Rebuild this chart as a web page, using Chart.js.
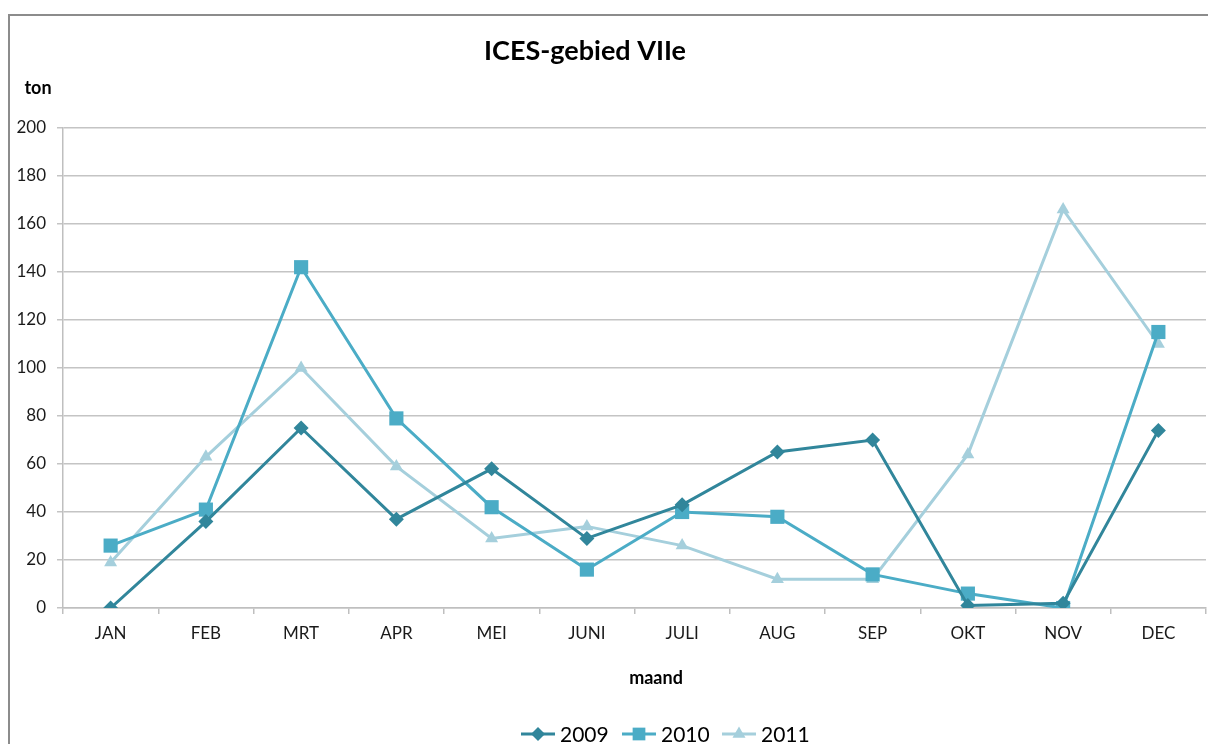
<!DOCTYPE html>
<html lang="nl">
<head>
<meta charset="UTF-8">
<title>ICES-gebied VIIe</title>
<script src="https://cdn.jsdelivr.net/npm/chart.js"></script>
<style>
    html, body { margin: 0; padding: 0; background: #fff; overflow: hidden; }
    #wrap { position: relative; width: 1208px; height: 744px; overflow: hidden; }
</style>
</head>
<body>
<div id="wrap"><canvas id="vangst" width="1216" height="744"></canvas></div>
<script>
    // maandelijkse aanvoer in ton
    const maanden = ['JAN', 'FEB', 'MRT', 'APR', 'MEI', 'JUNI', 'JULI', 'AUG', 'SEP', 'OKT', 'NOV', 'DEC'];
    const jaren = ['2009', '2010', '2011'];
    const ton2009 = [0, 36, 75, 37, 58, 29, 43, 65, 70, 1, 2, 74];
    const ton2010 = [26, 41, 142, 79, 42, 16, 40, 38, 14, 6, 0, 115];
    const ton2011 = [19, 63, 100, 59, 29, 34, 26, 12, 12, 64, 166, 110];
    const yTicks = [0, 20, 40, 60, 80, 100, 120, 140, 160, 180, 200];

    const kleuren = ['#31869b', '#4bacc6', '#a5cfdc'];
    const markers = ['rectRot', 'rect', 'triangle'];
    const groottes = [7.5, 10, 7.5];
    const FONT = 'Lato, "Open Sans", sans-serif';

    function reeks(i, data) {
        return {
            label: jaren[i],
            data: data,
            borderColor: kleuren[i],
            backgroundColor: kleuren[i],
            borderWidth: 3,
            pointStyle: markers[i],
            pointRadius: groottes[i],
            pointBorderWidth: 0,
            tension: 0
        };
    }

    // titels, kader en legenda zelf tekenen
    const opmaak = {
        id: 'opmaak',
        beforeDraw(chart) {
            const ctx = chart.ctx;
            ctx.save();
            ctx.strokeStyle = '#8c8c8c';
            ctx.lineWidth = 2;
            ctx.beginPath();
            ctx.moveTo(9, 744);
            ctx.lineTo(9, 15);
            ctx.lineTo(1216, 15);
            ctx.stroke();
            ctx.restore();
        },
        afterDraw(chart) {
            const ctx = chart.ctx;
            ctx.save();
            ctx.fillStyle = '#000';
            ctx.textBaseline = 'middle';
            ctx.textAlign = 'center';
            ctx.font = 'bold 27px ' + FONT;
            ctx.fillText('ICES-gebied VIIe', 585, 51);
            ctx.font = 'bold 18px ' + FONT;
            ctx.fillText('ton', 38, 88);
            ctx.fillText('maand', 656, 678);

            // legenda onderaan
            const startX = [521, 622, 722];
            const legRadius = [7, 9, 7.5];
            ctx.font = '21px ' + FONT;
            ctx.textAlign = 'left';
            chart.data.datasets.forEach((ds, i) => {
                const x = startX[i], y = 734;
                ctx.strokeStyle = ds.borderColor;
                ctx.lineWidth = 3;
                ctx.beginPath();
                ctx.moveTo(x, y);
                ctx.lineTo(x + 34, y);
                ctx.stroke();
                ctx.fillStyle = ds.backgroundColor;
                Chart.helpers.drawPoint(ctx, { pointStyle: ds.pointStyle, radius: legRadius[i], borderWidth: 0 }, x + 17, y);
                ctx.fillStyle = '#000';
                ctx.fillText(ds.label, x + 39, y + 1);
            });
            ctx.restore();
        }
    };

    new Chart(document.getElementById('vangst'), {
        type: 'line',
        data: {
            labels: maanden,
            datasets: [reeks(0, ton2009), reeks(1, ton2010), reeks(2, ton2011)]
        },
        options: {
            responsive: false,
            animation: false,
            layout: { padding: { left: 10, right: 3, top: 128, bottom: 0 } },
            plugins: {
                legend: { display: false },
                tooltip: { enabled: false }
            },
            scales: {
                x: {
                    offset: true,
                    afterFit(scale) { scale.height = 136; },
                    grid: {
                        offset: true,
                        drawOnChartArea: false,
                        drawTicks: true,
                        tickLength: 6,
                        color: '#bfbfbf',
                        lineWidth: 1.5
                    },
                    border: { color: '#bfbfbf', width: 1.5 },
                    ticks: {
                        color: '#1a1a1a',
                        font: { family: FONT, size: 17 },
                        padding: 9,
                        maxRotation: 0
                    }
                },
                y: {
                    min: 0,
                    max: 200,
                    afterFit(scale) { scale.width = 53; },
                    afterBuildTicks(scale) { scale.ticks = yTicks.map(v => ({ value: v })); },
                    grid: {
                        color: '#c4c4c4',
                        lineWidth: 1.5,
                        tickLength: 6
                    },
                    border: { color: '#bfbfbf', width: 1.5 },
                    ticks: {
                        color: '#1a1a1a',
                        font: { family: FONT, size: 17 },
                        padding: 11
                    }
                }
            }
        },
        plugins: [opmaak]
    });
</script>
